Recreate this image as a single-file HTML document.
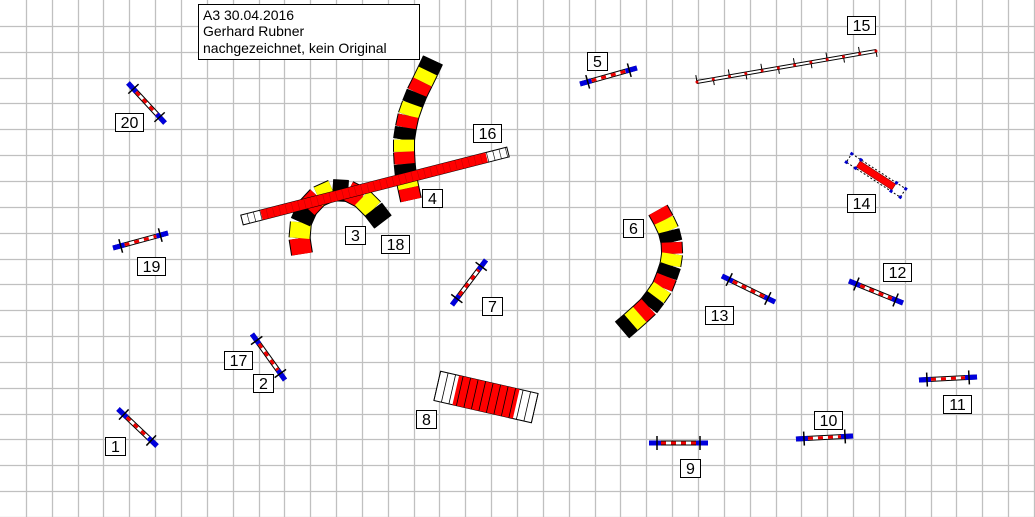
<!DOCTYPE html>
<html><head><meta charset="utf-8"><style>
html,body{margin:0;padding:0;background:#fff;}
svg{display:block;font-family:"Liberation Sans",sans-serif;}
</style></head><body>
<svg id="s" width="1035" height="517" xmlns="http://www.w3.org/2000/svg">
<g id="grid" stroke="#c0c0c0" stroke-width="1.3"></g>
<g id="items"></g>
<rect x="198.5" y="4.5" width="221" height="55" fill="#fff" stroke="#000"/>
<text x="203" y="20" font-size="14">A3 30.04.2016</text>
<text x="203" y="36" font-size="14">Gerhard Rubner</text>
<text x="203" y="53" font-size="14">nachgezeichnet, kein Original</text>
<g id="labels" font-size="16"></g>
</svg>
<script>
var NS="http://www.w3.org/2000/svg";
function el(p,t,a){var e=document.createElementNS(NS,t);for(var k in a)e.setAttribute(k,a[k]);p.appendChild(e);return e;}
var g=document.getElementById('grid');
for(var i=1;i<41;i++){var x=Math.round(i*25.85)+0.5;el(g,'line',{x1:x,y1:0,x2:x,y2:517});}
for(var i=1;i<21;i++){var y=Math.round(i*25.85)+0.5;el(g,'line',{x1:0,y1:y,x2:1035,y2:y});}
var it=document.getElementById('items');
function jump(x1,y1,x2,y2){
 var dx=x2-x1,dy=y2-y1,L=Math.hypot(dx,dy),ux=dx/L,uy=dy/L,px=-uy,py=ux;
 el(it,'line',{x1:x1,y1:y1,x2:x2,y2:y2,stroke:'#000','stroke-width':5});
 el(it,'line',{x1:x1,y1:y1,x2:x2,y2:y2,stroke:'#fff','stroke-width':3});
 el(it,'line',{x1:x1+ux*12,y1:y1+uy*12,x2:x2-ux*12,y2:y2-uy*12,stroke:'#e00','stroke-width':3,'stroke-dasharray':'5 5'});
 [[x1,y1,1],[x2,y2,-1]].forEach(function(p){
  var ex=p[0]+ux*p[2]*12,ey=p[1]+uy*p[2]*12;
  el(it,'line',{x1:p[0],y1:p[1],x2:ex,y2:ey,stroke:'#00d','stroke-width':5});
  var tx=p[0]+ux*p[2]*8,ty=p[1]+uy*p[2]*8;
  el(it,'line',{x1:tx+px*7,y1:ty+py*7,x2:tx-px*7,y2:ty-py*7,stroke:'#000','stroke-width':1.5});
 });
}
jump(128,83,165,123);jump(113,248,168,233);jump(118,409,157,446);jump(252,334,285,380);
jump(452,305,486,260);jump(580,84,637,68);jump(722,276,775,302);jump(849,281,903,303);
jump(919,380,977,377);jump(796,439,853,436);jump(649,443,708,443);
function tunnel(pts,cols){
 var segs=[];for(var i=0;i<pts.length-1;i++)segs.push([pts[i],pts[i+1]]);
 segs.forEach(function(s,i){
  el(it,'line',{x1:s[0][0],y1:s[0][1],x2:s[1][0],y2:s[1][1],stroke:'#000','stroke-width':22});
 });
 segs.forEach(function(s,i){
  el(it,'line',{x1:s[0][0],y1:s[0][1],x2:s[1][0],y2:s[1][1],stroke:cols[i%cols.length],'stroke-width':20});
 });
}
function sample(ctrl,n){var out=[];var tot=0,ls=[];for(var i=0;i<ctrl.length-1;i++){var l=Math.hypot(ctrl[i+1][0]-ctrl[i][0],ctrl[i+1][1]-ctrl[i][1]);ls.push(l);tot+=l;}
 for(var k=0;k<=n;k++){var d=tot*k/n,j=0;while(j<ls.length-1&&d>ls[j]){d-=ls[j];j++;}var f=Math.min(1,d/ls[j]);out.push([ctrl[j][0]+(ctrl[j+1][0]-ctrl[j][0])*f,ctrl[j][1]+(ctrl[j+1][1]-ctrl[j][1])*f]);}return out;}
tunnel(sample([[433,60],[425,77],[415,97],[408,117],[404,137],[404,157],[406,177],[411,200]],12),['#000','#ffff00','#ff0000']);
tunnel(sample([[302,254],[299,235],[302,215],[315,198],[335,189],[355,192],[370,205],[383,222]],9),['#ff0000','#ffff00','#000']);
tunnel(sample([[658,210],[668,228],[673,248],[670,268],[662,288],[650,305],[636,318],[622,330]],12),['#ff0000','#ffff00','#000']);
// dogwalk 16
(function(){var x1=242,y1=220,x2=508,y2=152,dx=x2-x1,dy=y2-y1,L=Math.hypot(dx,dy),a=Math.atan2(dy,dx)*180/Math.PI;
 var gg=el(it,'g',{transform:'translate('+x1+','+y1+') rotate('+a+')'});
 el(gg,'rect',{x:0,y:-5,width:L,height:10,fill:'#fff',stroke:'#000','stroke-width':1});
 el(gg,'rect',{x:20,y:-5,width:L-42,height:10,fill:'#f00'});
 for(var t=0;t<L;t+=6.5){el(gg,'line',{x1:t,y1:-5,x2:t,y2:5,stroke:(t<20||t>L-22)?'#000':'#c00','stroke-width':0.6});}
})();
// line 15
(function(){var x1=697,y1=82,x2=876,y2=51,dx=x2-x1,dy=y2-y1,L=Math.hypot(dx,dy),a=Math.atan2(dy,dx)*180/Math.PI;
 var gg=el(it,'g',{transform:'translate('+x1+','+y1+') rotate('+a+')'});
 el(gg,'rect',{x:0,y:-1.5,width:L,height:3,fill:'#fff',stroke:'#000','stroke-width':1});
 for(var i=0;i<=11;i++){var t=i*L/11;el(gg,'line',{x1:t,y1:0,x2:t,y2:(i%2?6:-7),stroke:'#000','stroke-width':1});el(gg,'circle',{cx:t,cy:0,r:1.5,fill:'#d00'});}
})();
// tire 14
(function(){var x1=849,y1=158,x2=903,y2=193,dx=x2-x1,dy=y2-y1,L=Math.hypot(dx,dy),a=Math.atan2(dy,dx)*180/Math.PI;
 var gg=el(it,'g',{transform:'translate('+x1+','+y1+') rotate('+a+')'});
 el(gg,'rect',{x:0,y:-5,width:L,height:10,fill:'#fff',stroke:'#000','stroke-width':1,'stroke-dasharray':'2 2'});
 el(gg,'rect',{x:11,y:-3.5,width:L-22,height:7,fill:'#f00',stroke:'#800','stroke-width':0.6});
 [[0,-5],[0,5],[L,-5],[L,5],[11,-5],[11,5],[L-11,-5],[L-11,5]].forEach(function(p){el(gg,'rect',{x:p[0]-1.5,y:p[1]-1.5,width:3,height:3,fill:'#00c'});});
})();
// seesaw 8
(function(){var gg=el(it,'g',{transform:'translate(486,397) rotate(12.9)'});
 el(gg,'rect',{x:-50,y:-15,width:100,height:30,fill:'#fff',stroke:'#000','stroke-width':1});
 el(gg,'rect',{x:-31,y:-15,width:62,height:30,fill:'#f00'});
 for(var i=0;i<=13;i++){var t=-50+i*100/13;el(gg,'line',{x1:t,y1:-15,x2:t,y2:15,stroke:'#000','stroke-width':0.8});}
})();
var lb=document.getElementById('labels');
[['20',115,113],['19',137,257],['1',105,437],['17',224,351],['2',253,374],['3',345,226],['18',381,235],['4',422,189],['16',473,124],['7',482,297],['8',416,410],['5',587,52],['6',623,219],['13',705,306],['15',847,16],['14',847,194],['12',883,263],['11',943,395],['10',814,411],['9',680,459]].forEach(function(l){
 var w=l[0].length>1?28:20;
 el(lb,'rect',{x:l[1]+0.5,y:l[2]+0.5,width:w,height:18,fill:'#fff',stroke:'#000'});
 var t=el(lb,'text',{x:l[1]+w/2+0.5,y:l[2]+15,'text-anchor':'middle',fill:'#000'});t.textContent=l[0];
});
</script>
</body></html>
